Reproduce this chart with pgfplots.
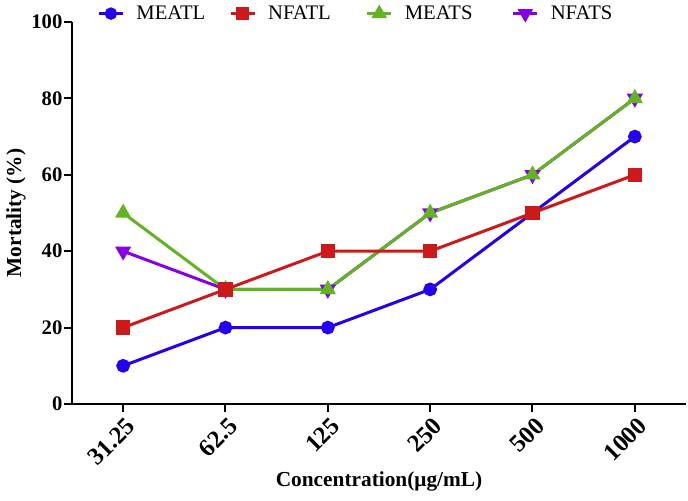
\documentclass[border=0pt]{standalone}
\usepackage{fontspec}
\setmainfont{Liberation Serif}
\usepackage{pgfplots}
\pgfplotsset{compat=1.18}
\definecolor{cblue}{RGB}{35,0,240}
\definecolor{cred}{RGB}{204,26,26}
\definecolor{cgreen}{RGB}{97,181,32}
\definecolor{cpurple}{RGB}{136,0,230}
\begin{document}
\begin{tikzpicture}
\useasboundingbox (-54pt,-72pt) rectangle (462pt,303pt);
\begin{axis}[
  at={(0,0)}, anchor=south west,
  scale only axis, width=460.5pt, height=286.5pt,
  xmin=-0.5, xmax=5.5, ymin=0, ymax=100,
  axis x line=bottom, axis y line=left,
  axis line style={-, line width=1.5pt, black},
  xtick={0,1,2,3,4,5},
  xticklabels={\bfseries 31.25,\bfseries 62.5,\bfseries 125,\bfseries 250,\bfseries 500,\bfseries 1000},
  ytick={0,20,40,60,80,100},
  yticklabels={\bfseries 0,\bfseries 20,\bfseries 40,\bfseries 60,\bfseries 80,\bfseries 100},
  tick align=outside, major tick length=6pt,
  tick style={line width=1.5pt, black},
  y tick label style={inner sep=1pt, font=\bfseries\fontsize{15.5}{18}\selectfont},
  x tick label style={rotate=45, anchor=north east, inner sep=1pt, yshift=-2pt, font=\bfseries\fontsize{18.5}{20}\selectfont},
  xlabel={Concentration(μg/mL)},
  ylabel={Mortality (\%)},
  label style={font=\bfseries\fontsize{16}{19}\selectfont},
  xlabel style={at={(axis description cs:0.5,-0.204)}, anchor=center},
  ylabel style={at={(axis description cs:-0.091,0.5)}, anchor=center, rotate=0},
  legend columns=4,
  legend style={at={(axis description cs:0.041,1.022)}, anchor=west, draw=none, fill=none,
    inner sep=0pt, font=\fontsize{15.5}{17}\selectfont,
    nodes={inner xsep=0pt},
    /tikz/every odd column/.append style={column sep=9pt},
    /tikz/every even column/.append style={column sep=0pt}},
  legend image code/.code={\draw[mark repeat=2,mark phase=2] plot coordinates {(0pt,0pt)(9pt,0pt)(18pt,0pt)};},
  every axis plot/.append style={line width=2.25pt},
  clip=false,
]
\addlegendimage{cblue, mark=*, mark size=3.5pt}
\addlegendentry{\makebox[69.5pt][l]{MEATL}}
\addlegendimage{cred, mark=square*, mark size=3.6pt}
\addlegendentry{\makebox[73.25pt][l]{NFATL}}
\addlegendimage{cgreen, mark=triangle*, mark size=4.5pt}
\addlegendentry{\makebox[80.25pt][l]{MEATS}}
\addlegendimage{cpurple, mark=triangle*, mark size=4.5pt, mark options={rotate=180}}
\addlegendentry{NFATS}
% MEATL
\addplot[cblue, mark=*, mark size=4pt, forget plot] coordinates {(0,10)(1,20)(2,20)(3,30)(4,50)(5,70)};
% NFATS
\addplot[cpurple, mark=triangle*, mark size=4.8pt, mark options={rotate=180}, forget plot] coordinates {(0,40)(1,30)(2,30)(3,50)(4,60)(5,80)};
% MEATS
\addplot[cgreen, mark=triangle*, mark size=4.8pt, forget plot] coordinates {(0,50)(1,30)(2,30)(3,50)(4,60)(5,80)};
% NFATL
\addplot[cred, mark=square*, mark size=4.3pt, forget plot] coordinates {(0,20)(1,30)(2,40)(3,40)(4,50)(5,60)};
\end{axis}
\end{tikzpicture}
\end{document}
